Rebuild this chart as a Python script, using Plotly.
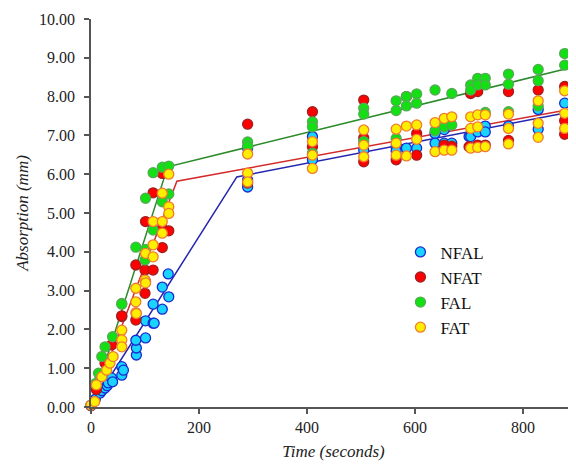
import plotly.graph_objects as go

# ---------------- data ----------------
nfal_t = [0, 8, 17, 20, 26, 30, 32, 38, 40, 57, 57, 60, 84, 84, 83, 101, 101, 115, 117, 115, 132, 132, 144, 143,
          290, 290, 290, 410, 410, 505, 565, 565, 584, 603, 637, 637, 654, 654, 668, 700, 703, 716, 730, 730,
          773, 828, 828, 877]
nfal_y = [0.03, 0.2, 0.36, 0.42, 0.49, 0.55, 0.62, 0.75, 0.65, 0.82, 1.04, 0.95, 1.34, 1.52, 1.72, 1.78, 2.22, 2.16,
          2.16, 2.65, 2.52, 3.09, 2.84, 3.43,
          5.67, 5.85, 6.67, 6.97, 6.37, 6.62, 6.71, 6.6, 6.67, 6.67, 7.05, 6.80, 7.15, 6.80, 6.80, 6.97, 6.97,
          7.09, 7.24, 7.09, 7.24, 7.67, 7.16, 7.83]

nfat_t = [0, 10, 17, 26, 38, 57, 57, 83, 83, 100, 100, 101, 101, 115, 115, 132, 132, 132, 144,
          290, 290, 410, 410, 505, 505, 505, 565, 584, 603, 603, 654, 668, 700, 703, 716, 716, 730,
          773, 773, 828, 877, 877, 877]
nfat_y = [0.04, 0.45, 0.78, 1.13, 1.60, 2.33, 2.35, 2.24, 3.66, 3.53, 2.93, 3.23, 4.78, 5.52, 3.53, 6.02, 4.61,
          4.11, 4.54,
          7.29, 5.77, 7.61, 6.71, 7.91, 6.93, 6.32, 6.37, 8.0, 7.05, 6.49, 6.75, 6.72, 6.71, 8.08, 8.13, 6.75, 6.75,
          8.13, 6.87, 8.17, 8.26, 7.38, 7.03]

fal_t = [0, 8, 14, 20, 26, 40, 57, 57, 83, 100, 101, 101, 115, 115, 132, 132, 144, 144,
         290, 290, 410, 410, 410, 505, 505, 505, 565, 565, 565, 584, 584, 603, 603, 637, 637, 654, 668, 668,
         703, 703, 716, 716, 730, 730, 730, 773, 773, 773, 828, 828, 828, 877, 877]
fal_y = [0.05, 0.6, 0.87, 1.30, 1.55, 1.81, 2.67, 2.65, 4.12, 3.79, 4.06, 5.38, 6.04, 4.56, 6.18, 5.29, 6.21, 5.49,
         6.83, 6.72, 7.35, 7.22, 6.54, 7.70, 7.55, 6.84, 7.89, 7.64, 6.92, 8.0, 7.76, 8.07, 7.83, 8.17, 7.12,
         7.22, 8.08, 7.27,
         8.30, 8.17, 8.47, 8.30, 8.47, 8.30, 7.59, 8.58, 8.32, 7.61, 8.70, 8.41, 7.76, 9.11, 8.81]

fat_t = [0, 7, 10, 20, 29, 35, 41, 57, 57, 57, 83, 83, 83, 84, 100, 101, 101, 115, 115, 115, 132, 132, 132, 144,
         144, 144,
         290, 290, 290, 410, 410, 410, 505, 505, 505, 565, 565, 565, 584, 584, 603, 603, 637, 637, 654, 654,
         668, 668, 703, 703, 703, 716, 716, 716, 730, 730, 773, 773, 773, 828, 828, 828, 877, 877, 877]
fat_y = [0.05, 0.14, 0.57, 0.78, 0.95, 1.13, 1.30, 1.98, 1.73, 1.55, 3.06, 2.71, 2.43, 2.41, 3.27, 3.96, 3.20,
         4.78, 4.18, 3.87, 5.51, 4.78, 4.48, 6.0, 5.16, 4.99,
         6.52, 6.03, 5.80, 6.84, 6.49, 6.15, 7.14, 6.75, 6.45, 7.16, 6.80, 6.49, 7.24, 6.47, 7.27, 6.90, 7.33,
         6.58, 7.44, 6.62, 7.48, 6.62, 7.48, 7.18, 6.67, 7.53, 7.22, 6.69, 7.53, 6.71, 7.55, 7.18, 6.78, 7.89,
         7.31, 6.95, 8.15, 7.57, 7.18]

# fitted piecewise-linear trend lines
fal_fit_t = [0, 142, 878]
fal_fit_y = [0.0, 6.19, 8.71]
nfat_fit_t = [0, 159, 878]
nfat_fit_y = [0.0, 5.82, 7.65]
nfal_fit_t = [0, 270, 878]
nfal_fit_y = [0.0, 5.93, 7.58]

x_ticks = [0, 200, 400, 600, 800]
y_ticks = [0, 1, 2, 3, 4, 5, 6, 7, 8, 9, 10]

# ---------------- figure ----------------
SERIF = "Times New Roman, Liberation Serif, serif"
fig = go.Figure()

line_w = 1.5
fig.add_trace(go.Scatter(x=nfal_fit_t, y=nfal_fit_y, mode="lines", showlegend=False,
                         line=dict(color="#2424b0", width=line_w), hoverinfo="skip"))
fig.add_trace(go.Scatter(x=nfat_fit_t, y=nfat_fit_y, mode="lines", showlegend=False,
                         line=dict(color="#d42a2a", width=line_w), hoverinfo="skip"))
fig.add_trace(go.Scatter(x=fal_fit_t, y=fal_fit_y, mode="lines", showlegend=False,
                         line=dict(color="#2a8a2a", width=line_w), hoverinfo="skip"))

series = [
    ("NFAL", nfal_t, nfal_y, "#19d4ff", "#1a2ad0"),
    ("NFAT", nfat_t, nfat_y, "#ff0000", "#a02020"),
    ("FAL", fal_t, fal_y, "#12e012", "#55aa55"),
    ("FAT", fat_t, fat_y, "#ffee00", "#f07a30"),
]
for name, t, y, fill, edge in series:
    fig.add_trace(go.Scatter(
        x=t, y=y, mode="markers", name=name, cliponaxis=False,
        marker=dict(size=10, color=fill, line=dict(color=edge, width=1.3)),
    ))

# the page body has an 8px margin, so the figure is sized and padded to compensate
fig.update_layout(
    width=568, height=456,
    margin=dict(l=83, r=0, t=11, b=57),
    paper_bgcolor="white", plot_bgcolor="white",
    font=dict(family=SERIF, size=16, color="#222222"),
    legend=dict(x=0.638, y=0.445, xanchor="left", yanchor="top",
                font=dict(family=SERIF, size=17, color="#111111"),
                bgcolor="rgba(0,0,0,0)", itemwidth=30, tracegroupgap=0),
    showlegend=True,
)
axis_common = dict(showgrid=False, zeroline=False, showline=True, linecolor="#555555", linewidth=1.5,
                   ticks="outside", ticklen=5, tickwidth=1.5, tickcolor="#555555",
                   tickfont=dict(family=SERIF, size=16, color="#222222"))
fig.update_xaxes(range=[0, 898], tickvals=x_ticks, ticktext=[str(v) for v in x_ticks],
                 title=dict(text="<i>Time (seconds)</i>", font=dict(family=SERIF, size=17), standoff=10),
                 **axis_common)
fig.update_yaxes(range=[0, 10], tickvals=y_ticks, ticktext=[f"{v:.2f}" for v in y_ticks],
                 ticklabelstandoff=6,
                 title=dict(text="<i>Absorption (mm)</i>", font=dict(family=SERIF, size=17), standoff=6),
                 **axis_common)

fig.write_html("out.html")
